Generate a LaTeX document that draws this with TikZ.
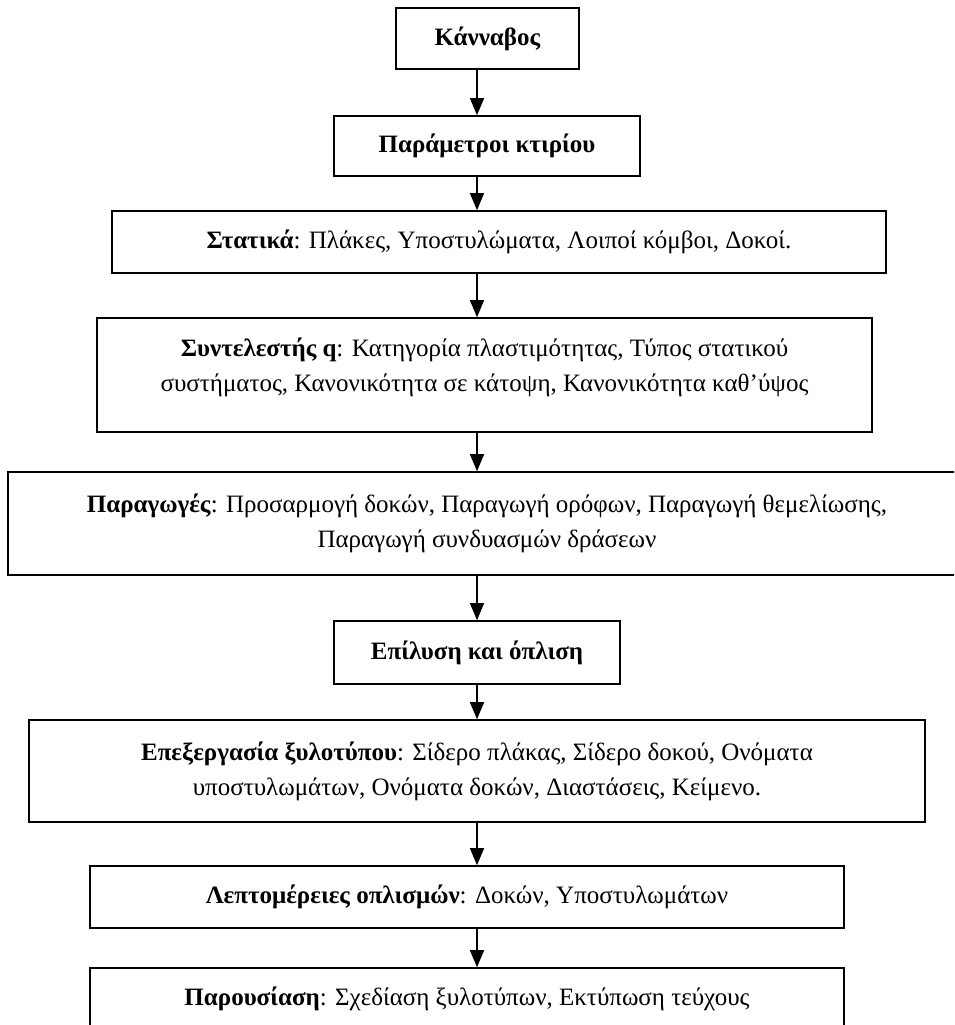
\documentclass[tikz,border=0pt]{standalone}
\usepackage{fontspec}
\setmainfont{Liberation Serif}
\usetikzlibrary{arrows.meta}

\begin{document}
\begin{tikzpicture}[x=1pt,y=-1pt]
\tikzset{font=\fontsize{25}{35}\selectfont}
\tikzset{box/.style={draw, line width=1.6pt, align=center, inner sep=0pt}}
\tikzset{flow/.style={draw, line width=1.2pt, -{Triangle[length=17pt,width=14pt]}}}
\useasboundingbox (0,0) rectangle (954,1025);
\clip (0,0) rectangle (954,1025);

\node[box, minimum width=183pt, minimum height=61pt] (kannavos) at (487.5,38.5) {\textbf{Κάνναβος}};
\node[box, minimum width=306pt, minimum height=60pt] (parametroi) at (487,146) {\textbf{Παράμετροι κτιρίου}};
\node[box, minimum width=774pt, minimum height=62pt] (statika) at (499,242) {\textbf{Στατικά}: Πλάκες, Υποστυλώματα, Λοιποί κόμβοι, Δοκοί.};
\node[box, minimum width=775pt, minimum height=114pt, text depth=20pt] (syntelestis) at (484.5,375) {\textbf{Συντελεστής q}: Κατηγορία πλαστιμότητας, Τύπος στατικού\\ συστήματος, Κανονικότητα σε κάτοψη, Κανονικότητα καθ’ύψος};
\node[box, minimum width=958pt, minimum height=103pt] (paragoges) at (487,523.5) {\textbf{Παραγωγές}: Προσαρμογή δοκών, Παραγωγή ορόφων, Παραγωγή θεμελίωσης,\\ Παραγωγή συνδυασμών δράσεων};
\node[box, minimum width=286pt, minimum height=63pt] (epilysi) at (477,652.5) {\textbf{Επίλυση και όπλιση}};
\node[box, minimum width=896pt, minimum height=102pt] (xylotypos) at (477,771) {\textbf{Επεξεργασία ξυλοτύπου}: Σίδερο πλάκας, Σίδερο δοκού, Ονόματα\\ υποστυλωμάτων, Ονόματα δοκών, Διαστάσεις, Κείμενο.};
\node[box, minimum width=754pt, minimum height=62pt] (leptomereies) at (467,897) {\textbf{Λεπτομέρειες οπλισμών}: Δοκών, Υποστυλωμάτων};
\node[box, minimum width=754pt, minimum height=62pt] (parousiasi) at (467,999) {\textbf{Παρουσίαση}: Σχεδίαση ξυλοτύπων, Εκτύπωση τεύχους};

\coordinate (axis) at (477,0);
\foreach \a/\b in {kannavos/parametroi, parametroi/statika, statika/syntelestis, syntelestis/paragoges, paragoges/epilysi, epilysi/xylotypos, xylotypos/leptomereies, leptomereies/parousiasi}
  \draw[flow] (\a.south -| axis) -- (\b.north -| axis);
\end{tikzpicture}
\end{document}
